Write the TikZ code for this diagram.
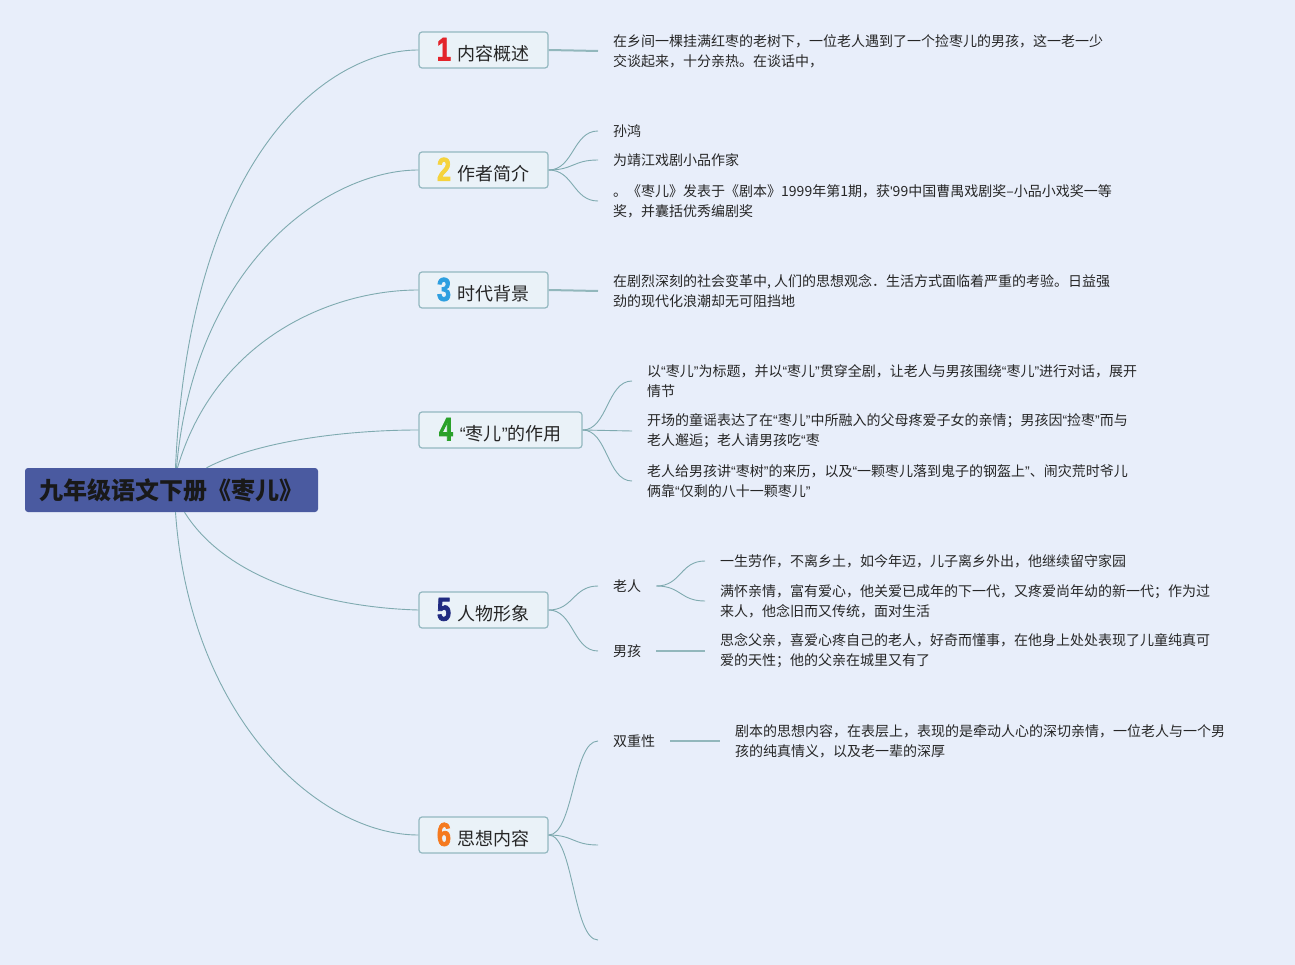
\documentclass[tikz,border=0pt]{standalone}
\usepackage{fontspec}
\setmainfont{Noto Sans CJK SC}
\newfontfamily\numfont[FakeStretch=0.76, FakeBold=2.2]{Liberation Sans Bold}
\newfontfamily\qfont{Liberation Sans}
\usetikzlibrary{positioning}

\definecolor{bgblue}{HTML}{E8EEFA}
\definecolor{rootblue}{HTML}{4A5AA0}
\definecolor{linkteal}{HTML}{7FAAB0}
\definecolor{boxfill}{HTML}{EAF2F8}
\definecolor{boxline}{HTML}{93B8C0}
\definecolor{numred}{HTML}{E3242B}
\definecolor{numyellow}{HTML}{F5D33D}
\definecolor{numblue}{HTML}{2E9FE0}
\definecolor{numgreen}{HTML}{2AA12A}
\definecolor{numnavy}{HTML}{1F2A80}
\definecolor{numorange}{HTML}{F57A1F}

\newcommand\tnum[2]{{\numfont\fontsize{33}{33}\selectfont\color{#1}#2}\hspace{7pt}}
\newcommand\dq[1]{{\qfont“}#1{\qfont”}}

\tikzset{
    rootbox/.style={fill=rootblue, rounded corners=3pt, minimum width=293pt,
        minimum height=44pt, inner sep=0pt,
        font=\fontsize{24}{24}\selectfont\bfseries, text=black!90},
    topic/.style={draw=boxline, fill=boxfill, line width=1.2pt, rounded corners=3pt,
        minimum width=129pt, minimum height=36pt, inner sep=0pt,
        font=\fontsize{18}{18}\selectfont, text=black!85},
    leaf/.style={anchor=west, align=left, inner xsep=15pt, inner ysep=0pt,
        font=\fontsize{14}{20}\selectfont, text=black!85},
    link/.style={draw=linkteal, line width=0.9pt},
    bar/.style={draw=linkteal!85, line width=2pt},
}

\begin{document}
\begin{tikzpicture}[x=1pt, y=-1pt]
    \fill[bgblue] (0,0) rectangle (1295,965);
    \useasboundingbox (0,0) rectangle (1295,965);

    % root and main topics
    \node[rootbox] (root) at (171.5,490) {九年级语文下册《枣儿》};
    \node[topic] (b1) at (483.5,50)  {\tnum{numred}{1}内容概述};
    \node[topic] (b2) at (483.5,170) {\tnum{numyellow}{2}作者简介};
    \node[topic] (b3) at (483.5,290) {\tnum{numblue}{3}时代背景};
    \node[topic, minimum width=163pt] (b4) at (500.5,430) {\tnum{numgreen}{4}\dq{枣儿}的作用};
    \node[topic] (b5) at (483.5,610) {\tnum{numnavy}{5}人物形象};
    \node[topic] (b6) at (483.5,835) {\tnum{numorange}{6}思想内容};

    \draw[link] ([xshift=4pt]root.north) .. controls (190,150) and (330,50) .. (b1.west);
    \draw[link] ([xshift=5pt]root.north) .. controls (195,260) and (330,170) .. (b2.west);
    \draw[link] ([xshift=6pt]root.north) .. controls (215,340) and (330,290) .. (b3.west);
    \draw[link] ([xshift=35pt]root.north) .. controls (260,440) and (350,430) .. (b4.west);
    \draw[link] ([xshift=13pt]root.south) .. controls (230,585) and (340,608) .. (b5.west);
    \draw[link] ([xshift=4pt]root.south) .. controls (190,720) and (320,835) .. (b6.west);

    % 1
    \node[leaf] (t1) at (598,51) {在乡间一棵挂满红枣的老树下，一位老人遇到了一个捡枣儿的男孩，这一老一少\\交谈起来，十分亲热。在谈话中，};
    \draw[bar] (b1.east) -- (t1.west);

    % 2
    \node[leaf] (a1) at (598,131) {孙鸿};
    \node[leaf] (a2) at (598,160) {为靖江戏剧小品作家};
    \node[leaf] (a3) at (598,201) {。《枣儿》发表于《剧本》1999年第1期，获{\qfont'}99中国曹禺戏剧奖–小品小戏奖一等\\奖，并囊括优秀编剧奖};
    \foreach \s in {a1,a2,a3}
        \draw[link] (b2.east) .. controls +(25,0) and +(-25,0) .. (\s.west);

    % 3
    \node[leaf] (t3) at (598,291) {在剧烈深刻的社会变革中, 人们的思想观念．生活方式面临着严重的考验。日益强\\劲的现代化浪潮却无可阻挡地};
    \draw[bar] (b3.east) -- (t3.west);

    % 4
    \node[leaf] (c1) at (632,381) {以\dq{枣儿}为标题，并以\dq{枣儿}贯穿全剧，让老人与男孩围绕\dq{枣儿}进行对话，展开\\情节};
    \node[leaf] (c2) at (632,431) {开场的童谣表达了在\dq{枣儿}中所融入的父母疼爱子女的亲情；男孩因\dq{捡枣}而与\\老人邂逅；老人请男孩吃{\qfont“}枣};
    \node[leaf] (c3) at (632,481) {老人给男孩讲\dq{枣树}的来历，以及\dq{一颗枣儿落到鬼子的钢盔上}、闹灾荒时爷儿\\俩靠\dq{仅剩的八十一颗枣儿}};
    \foreach \s in {c1,c2,c3}
        \draw[link] (b4.east) .. controls +(25,0) and +(-25,0) .. (\s.west);

    % 5
    \node[leaf] (p1) at (598,586) {老人};
    \node[leaf] (p2) at (598,651) {男孩};
    \node[leaf] (p11) at (705,561) {一生劳作，不离乡土，如今年迈，儿子离乡外出，他继续留守家园};
    \node[leaf] (p12) at (705,601) {满怀亲情，富有爱心，他关爱已成年的下一代，又疼爱尚年幼的新一代；作为过\\来人，他念旧而又传统，面对生活};
    \node[leaf] (p21) at (705,651) {思念父亲，喜爱心疼自己的老人，好奇而懂事，在他身上处处表现了儿童纯真可\\爱的天性；他的父亲在城里又有了};
    \foreach \s in {p1,p2}
        \draw[link] (b5.east) .. controls +(25,0) and +(-25,0) .. (\s.west);
    \foreach \s in {p11,p12}
        \draw[link] (p1.east) .. controls +(25,0) and +(-25,0) .. (\s.west);
    \draw[bar] (p2.east) -- (p21.west);

    % 6
    \node[leaf] (q1) at (598,741) {双重性};
    \node[leaf] (q11) at (720,741) {剧本的思想内容，在表层上，表现的是牵动人心的深切亲情，一位老人与一个男\\孩的纯真情义，以及老一辈的深厚};
    \coordinate (q2) at (598,845);
    \coordinate (q3) at (598,940);
    \draw[link] (b6.east) .. controls +(25,0) and +(-25,0) .. (q1.west);
    \foreach \s in {q2,q3}
        \draw[link] (b6.east) .. controls +(25,0) and +(-25,0) .. (\s);
    \draw[bar] (q1.east) -- (q11.west);
\end{tikzpicture}
\end{document}
